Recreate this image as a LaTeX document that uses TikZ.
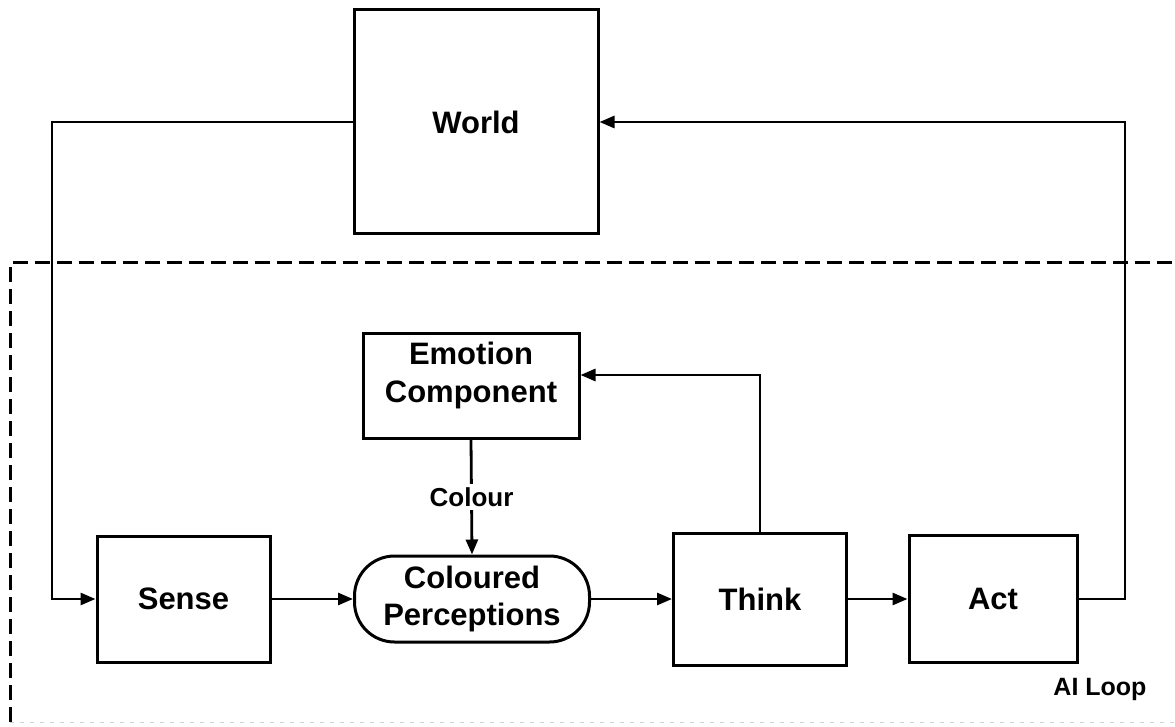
\documentclass[tikz,border=0pt]{standalone}
\usepackage{fontspec}
\setmainfont{Liberation Sans}
\usetikzlibrary{arrows.meta}
\begin{document}
\begin{tikzpicture}[x=1pt,y=-1pt,
  box/.style={draw,line width=3pt,align=center,inner sep=0pt,
    font=\fontsize{31}{37}\bfseries\selectfont},
  plain/.style={align=center,inner sep=0pt,font=\fontsize{31}{38}\bfseries\selectfont},
  pill/.style={box,rounded corners=40pt},
  conn/.style={line width=2.8pt},
  arr/.style={conn,-{Triangle[length=15pt,width=12pt]}},
  loop/.style={line width=3pt,dash pattern=on 15pt off 7pt},
  small/.style={font=\fontsize{26}{28}\bfseries\selectfont,inner sep=3pt,fill=white}]
\useasboundingbox (0,0) rectangle (1175,727);
\fill[white] (0,0) rectangle (1175,727);

% enclosing AI loop frame
\draw[loop] (10,722) -- (10,263) -- (1180,263);
\draw[gray!35,line width=1pt,dash pattern=on 4pt off 6pt] (10,722) -- (1175,722);
\node[font=\fontsize{25}{27}\bfseries\selectfont] (ailoop) at (1100,689) {AI Loop};

% blocks
\node[box,minimum width=244pt,minimum height=224pt] (world) at (476,122) {World};
\node[box,minimum width=216pt,minimum height=105pt] (emotion) at (471,385.5) {};
\node[plain] (emotiontext) at (471,375) {Emotion\\Component};
\node[box,minimum width=173pt,minimum height=126pt] (sense) at (183.5,599) {Sense};
\node[pill,minimum width=235pt,minimum height=86pt] (perc) at (472,599) {Coloured\\Perceptions};
\node[box,minimum width=173pt,minimum height=132pt] (think) at (760,599) {Think};
\node[box,minimum width=168pt,minimum height=127pt] (act) at (993,599) {Act};

% bend points of the outer loop
\coordinate (lc) at (52,122);
\coordinate (rc) at (1125,122);
\coordinate (te) at (760,375);

% connectors
\draw[arr] (world.west) -- (lc) |- (sense.west);
\draw[arr] (act.east) -| (rc) -- (world.east);
\draw[arr] (sense.east) -- (perc.west);
\draw[arr] (perc.east) -- (think.west);
\draw[arr] (think.east) -- (act.west);
\draw[arr] (think.north) -- (te) -- (te -| emotion.east);
\draw[arr] (emotion.south) -- node[small] (colour) {Colour} (perc.north);
\end{tikzpicture}
\end{document}
